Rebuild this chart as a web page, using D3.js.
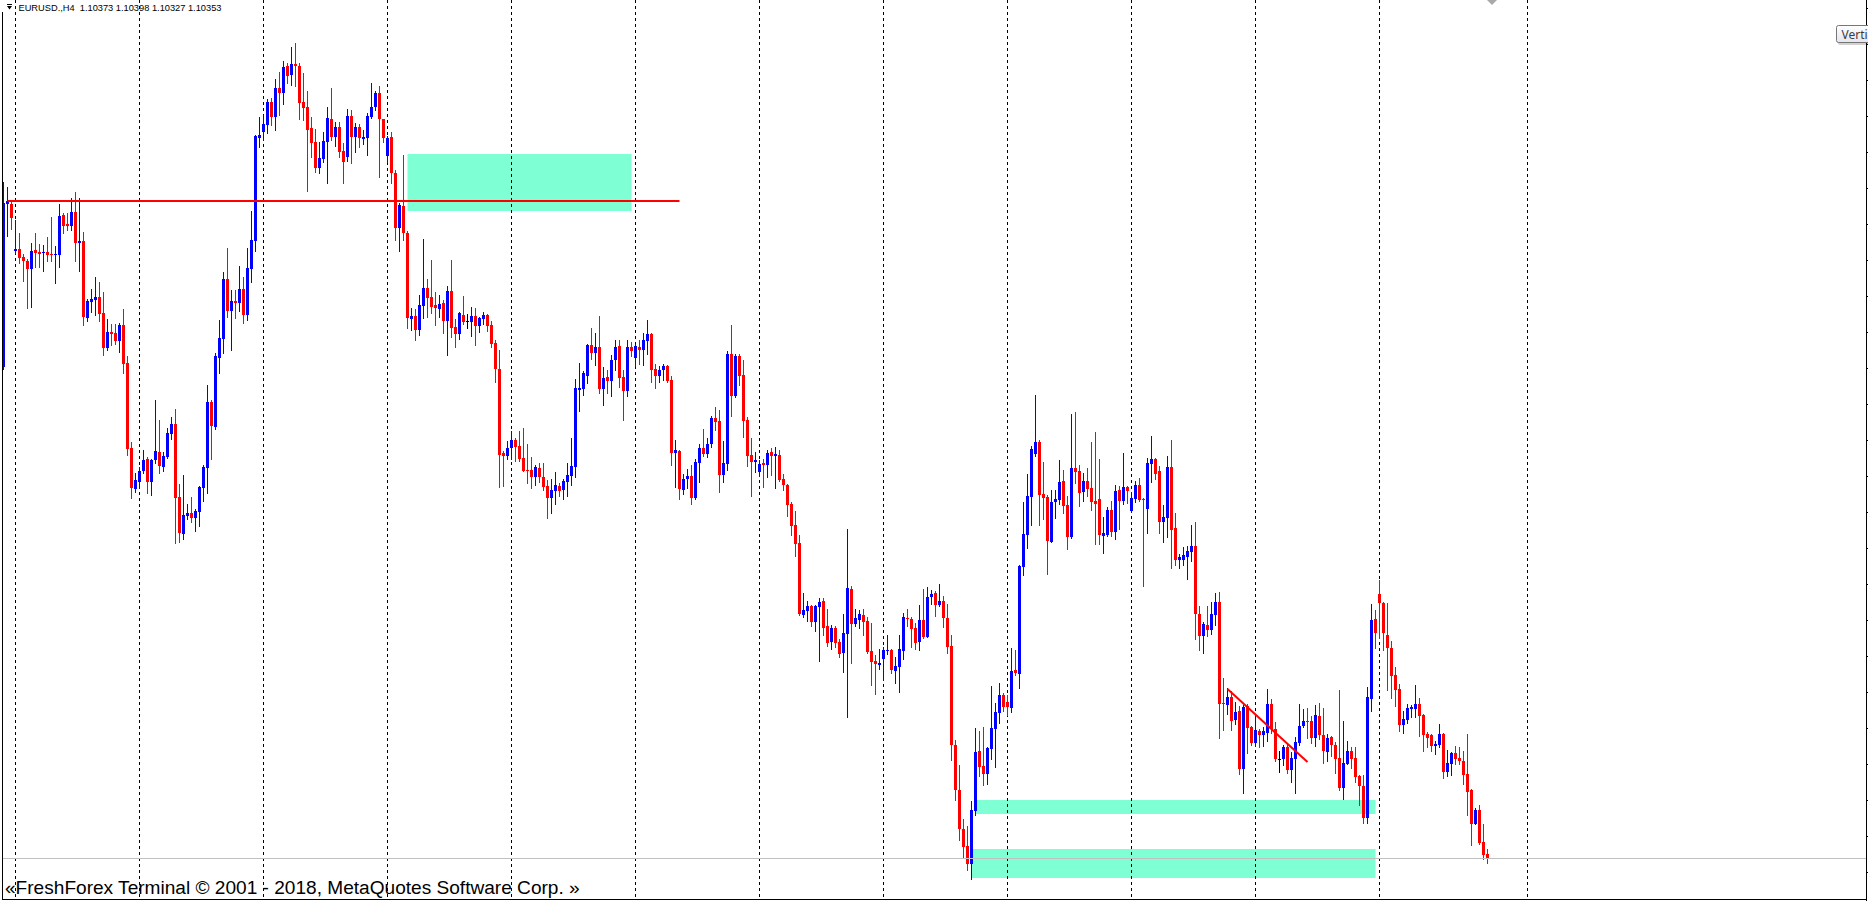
<!DOCTYPE html>
<html><head><meta charset="utf-8">
<script src="https://cdn.jsdelivr.net/npm/d3@7/dist/d3.min.js"></script>
<style>html,body{margin:0;padding:0;background:#fff;overflow:hidden}svg{display:block}</style>
</head><body>
<svg id="chart" width="1868" height="901"></svg>
<script>
// ---------------- DATA (EURUSD H4) ----------------
const headerText = "EURUSD.,H4  1.10373 1.10398 1.10327 1.10353";
const footerText = "«FreshForex Terminal © 2001 - 2018, MetaQuotes Software Corp. »";
const tooltipText = "Verti";

const open = [
1.12808,1.13623,1.13623,1.13388,1.13398,1.13358,1.13338,1.13298,1.13393,1.13383,
1.13378,1.13383,1.13373,1.13368,1.13368,1.13568,1.13523,1.13513,1.13583,1.13428,
1.13438,1.13053,1.13133,1.13143,1.13158,1.13078,1.12903,1.12983,1.12978,1.12938,
1.13018,1.12828,1.12403,1.12198,1.12233,1.12288,1.12348,1.12233,1.12343,1.12383,
1.12308,1.12358,1.12473,1.12523,1.12158,1.11973,1.12063,1.12078,1.12053,1.12083,
1.12203,1.12303,1.12633,1.12508,1.12853,1.12948,1.13248,1.13088,1.13138,1.13128,
1.13198,1.13068,1.13298,1.13438,1.13953,1.13983,1.14018,1.14133,1.14058,1.14203,
1.14178,1.14313,1.14268,1.14323,1.14313,1.14133,1.14108,1.14003,1.13933,1.13803,
1.13848,1.13933,1.14048,1.13958,1.14008,1.13888,1.13858,1.14063,1.13958,1.14008,
1.13948,1.13953,1.14058,1.14108,1.14178,1.14048,1.13863,1.13958,1.13778,1.13503,
1.13613,1.13478,1.13048,1.13063,1.12993,1.13113,1.13203,1.13158,1.13118,1.13098,
1.13128,1.13038,1.13188,1.13008,1.12973,1.13068,1.13038,1.13033,1.13063,1.13013,
1.13048,1.13068,1.13018,1.12928,1.12798,1.12378,1.12363,1.12403,1.12443,1.12413,
1.12353,1.12293,1.12293,1.12258,1.12303,1.12258,1.12213,1.12153,1.12188,1.12213,
1.12193,1.12233,1.12263,1.12308,1.12693,1.12698,1.12763,1.12918,1.12878,1.12908,
1.12698,1.12758,1.12738,1.12843,1.12913,1.12758,1.12688,1.12908,1.12853,1.12908,
1.12893,1.12938,1.12973,1.12798,1.12763,1.12793,1.12813,1.12743,1.12378,1.12388,
1.12193,1.12248,1.12263,1.12153,1.12328,1.12403,1.12373,1.12423,1.12553,1.12538,
1.12268,1.12323,1.12873,1.12663,1.12863,1.12768,1.12543,1.12368,1.12333,1.12283,
1.12328,1.12318,1.12383,1.12363,1.12368,1.12248,1.12218,1.12123,1.12018,1.11928,
1.11568,1.11588,1.11613,1.11533,1.11608,1.11638,1.11513,1.11433,1.11503,1.11433,
1.11378,1.11473,1.11698,1.11523,1.11543,1.11568,1.11538,1.11388,1.11338,1.11318,
1.11348,1.11388,1.11393,1.11288,1.11308,1.11388,1.11553,1.11548,1.11503,1.11433,
1.11543,1.11458,1.11658,1.11678,1.11618,1.11638,1.11553,1.11413,1.10918,1.10693,
1.10498,1.10413,1.10323,1.10588,1.10888,1.10813,1.10773,1.10898,1.10998,1.11078,
1.11168,1.11133,1.11103,1.11293,1.11273,1.11808,1.11968,1.12158,1.12373,1.12433,
1.12173,1.12158,1.11933,1.12133,1.12143,1.12238,1.12118,1.11958,1.12303,1.12288,
1.12183,1.12238,1.12203,1.12138,1.12148,1.11963,1.11968,1.12093,1.11983,1.12193,
1.12138,1.12208,1.12088,1.12148,1.12218,1.12148,1.12098,1.12323,1.12348,1.12288,
1.12033,1.12053,1.12308,1.12003,1.11843,1.11843,1.11858,1.11883,1.11913,1.11573,
1.11463,1.11518,1.11493,1.11568,1.11633,1.11128,1.11118,1.11158,1.11043,1.11088,
1.10798,1.11113,1.11008,1.10928,1.10988,1.10968,1.10978,1.11123,1.10998,1.10848,
1.10848,1.10908,1.10793,1.10848,1.10928,1.11013,1.11038,1.11038,1.10953,1.11063,
1.10968,1.10883,1.10958,1.10918,1.10853,1.10703,1.10823,1.10888,1.10853,1.10763,
1.10713,1.10553,1.11148,1.11548,1.11673,1.11628,1.11468,1.11403,1.11268,1.11198,
1.11018,1.11043,1.11098,1.11098,1.11123,1.11068,1.10973,1.10968,1.10913,1.10918,
1.10973,1.10783,1.10823,1.10878,1.10853,1.10838,1.10773,1.10693,1.10523,1.10593,
1.10433,1.10373];

const high = [
1.13733,1.13708,1.13633,1.13543,1.13478,1.13373,1.13348,1.13428,1.13478,1.13423,
1.13418,1.13458,1.13558,1.13413,1.13623,1.13578,1.13578,1.13653,1.13683,1.13653,
1.13483,1.13148,1.13198,1.13258,1.13233,1.13183,1.13048,1.13023,1.13023,1.13028,
1.13098,1.12863,1.12433,1.12278,1.12308,1.12393,1.12358,1.12348,1.12643,1.12543,
1.12383,1.12503,1.12558,1.12598,1.12223,1.12268,1.12123,1.12158,1.12098,1.12213,
1.12318,1.12718,1.12643,1.12878,1.13043,1.13283,1.13403,1.13193,1.13193,1.13313,
1.13258,1.13403,1.13588,1.13968,1.14058,1.14068,1.14148,1.14153,1.14248,1.14283,
1.14338,1.14328,1.14408,1.14428,1.14328,1.14278,1.14188,1.14058,1.13998,1.13933,
1.13983,1.14108,1.14203,1.14033,1.14033,1.13928,1.14098,1.14093,1.14028,1.14023,
1.13993,1.14078,1.14228,1.14188,1.14213,1.14048,1.13963,1.13983,1.13793,1.13628,
1.13868,1.13488,1.13103,1.13098,1.13168,1.13448,1.13248,1.13343,1.13183,1.13168,
1.13143,1.13213,1.13343,1.13048,1.13083,1.13163,1.13073,1.13108,1.13103,1.13058,
1.13083,1.13073,1.13038,1.12943,1.12893,1.12388,1.12438,1.12488,1.12453,1.12488,
1.12503,1.12423,1.12358,1.12318,1.12328,1.12328,1.12243,1.12248,1.12283,1.12228,
1.12248,1.12328,1.12453,1.12748,1.12828,1.12788,1.12923,1.13003,1.12978,1.13063,
1.12808,1.12793,1.12868,1.12943,1.12943,1.12793,1.12943,1.12933,1.12923,1.12943,
1.12978,1.13043,1.12978,1.12823,1.12813,1.12823,1.12818,1.12763,1.12443,1.12393,
1.12273,1.12298,1.12318,1.12348,1.12423,1.12498,1.12453,1.12563,1.12608,1.12593,
1.12438,1.12888,1.13018,1.12873,1.12873,1.12843,1.12558,1.12453,1.12383,1.12343,
1.12348,1.12393,1.12403,1.12408,1.12393,1.12273,1.12223,1.12133,1.12088,1.11968,
1.11678,1.11638,1.11618,1.11618,1.11653,1.11653,1.11598,1.11518,1.11513,1.11448,
1.11573,1.11998,1.11713,1.11598,1.11593,1.11598,1.11558,1.11528,1.11368,1.11398,
1.11408,1.11468,1.11398,1.11358,1.11468,1.11578,1.11598,1.11558,1.11528,1.11618,
1.11698,1.11708,1.11693,1.11688,1.11723,1.11663,1.11623,1.11468,1.10943,1.10818,
1.10548,1.10513,1.10638,1.11003,1.10988,1.11008,1.10908,1.11213,1.11128,1.11228,
1.11178,1.11168,1.11403,1.11393,1.11818,1.12133,1.12273,1.12413,1.12668,1.12443,
1.12333,1.12168,1.12193,1.12193,1.12343,1.12293,1.12163,1.12573,1.12583,1.12318,
1.12278,1.12303,1.12433,1.12483,1.12348,1.12058,1.12108,1.12138,1.12218,1.12213,
1.12378,1.12213,1.12183,1.12238,1.12253,1.12153,1.12353,1.12463,1.12353,1.12313,
1.12118,1.12363,1.12443,1.12078,1.11873,1.11908,1.11913,1.12018,1.12033,1.11613,
1.11533,1.11613,1.11633,1.11678,1.11683,1.11253,1.11203,1.11188,1.11133,1.11113,
1.11118,1.11123,1.11013,1.11073,1.10998,1.11008,1.11198,1.11148,1.11033,1.10888,
1.10918,1.10923,1.10883,1.10958,1.11123,1.11098,1.11103,1.11063,1.11118,1.11128,
1.11103,1.10973,1.10963,1.10933,1.11193,1.11038,1.10938,1.10908,1.10908,1.10768,
1.10768,1.11208,1.11623,1.11593,1.11743,1.11633,1.11628,1.11438,1.11308,1.11223,
1.11088,1.11123,1.11118,1.11218,1.11153,1.11073,1.10983,1.10973,1.10938,1.11023,
1.10978,1.10893,1.10883,1.10913,1.10908,1.10888,1.10973,1.10698,1.10603,1.10618,
1.10523,1.10398];

const low = [
1.12798,1.13463,1.13498,1.13378,1.13328,1.13238,1.13103,1.13108,1.13308,1.13308,
1.13288,1.13338,1.13338,1.13228,1.13308,1.13478,1.13493,1.13493,1.13338,1.13288,
1.13018,1.13038,1.13083,1.13068,1.13038,1.12868,1.12893,1.12918,1.12923,1.12883,
1.12778,1.12368,1.12153,1.12183,1.12203,1.12278,1.12178,1.12168,1.12328,1.12278,
1.12288,1.12353,1.12448,1.11928,1.11933,1.11948,1.12048,1.12033,1.11988,1.12013,
1.12138,1.12178,1.12348,1.12498,1.12778,1.12878,1.13058,1.12893,1.13053,1.13088,
1.13028,1.13043,1.13233,1.13388,1.13908,1.13943,1.13978,1.14018,1.13993,1.14068,
1.14123,1.14228,1.14218,1.14213,1.14048,1.14043,1.13688,1.13858,1.13783,1.13778,
1.13833,1.13728,1.13943,1.13913,1.13858,1.13728,1.13838,1.13828,1.13883,1.13908,
1.13923,1.13868,1.14053,1.14093,1.13758,1.13933,1.13833,1.13728,1.13443,1.13388,
1.13443,1.13003,1.12993,1.12943,1.12968,1.13053,1.13058,1.13078,1.13018,1.13058,
1.12978,1.12868,1.12958,1.12908,1.12948,1.13023,1.13003,1.12963,1.12918,1.12983,
1.13023,1.12988,1.12908,1.12733,1.12208,1.12213,1.12348,1.12348,1.12338,1.12338,
1.12288,1.12228,1.12203,1.12218,1.12233,1.12193,1.12053,1.12078,1.12123,1.12163,
1.12148,1.12163,1.12218,1.12258,1.12588,1.12668,1.12728,1.12848,1.12818,1.12678,
1.12618,1.12678,1.12663,1.12793,1.12708,1.12543,1.12663,1.12863,1.12813,1.12823,
1.12818,1.12873,1.12733,1.12703,1.12733,1.12743,1.12733,1.12318,1.12208,1.12148,
1.12173,1.12203,1.12123,1.12148,1.12233,1.12363,1.12358,1.12408,1.12493,1.12183,
1.12233,1.12293,1.12563,1.12658,1.12718,1.12458,1.12313,1.12163,1.12283,1.12263,
1.12208,1.12258,1.12268,1.12203,1.12238,1.12193,1.12063,1.11968,1.11863,1.11568,
1.11558,1.11538,1.11513,1.11488,1.11338,1.11468,1.11413,1.11398,1.11408,1.11358,
1.11283,1.11058,1.11328,1.11513,1.11503,1.11468,1.11378,1.11218,1.11173,1.11298,
1.11243,1.11373,1.11278,1.11228,1.11183,1.11348,1.11513,1.11408,1.11398,1.11393,
1.11453,1.11458,1.11623,1.11563,1.11613,1.11508,1.11378,1.10843,1.10643,1.10443,
1.10358,1.10293,1.10248,1.10568,1.10763,1.10718,1.10723,1.10848,1.10808,1.11028,
1.11088,1.11068,1.11083,1.11268,1.11203,1.11768,1.11903,1.12018,1.12363,1.12018,
1.12048,1.11773,1.11933,1.12053,1.12123,1.12078,1.11898,1.11953,1.12228,1.12113,
1.12138,1.12163,1.12093,1.11923,1.11923,1.11878,1.11963,1.11963,1.11948,1.11998,
1.12123,1.12128,1.12083,1.12133,1.12138,1.11713,1.11978,1.12233,1.12248,1.11978,
1.11933,1.11958,1.11803,1.11818,1.11803,1.11818,1.11748,1.11838,1.11448,1.11393,
1.11378,1.11463,1.11473,1.11518,1.10953,1.10993,1.11073,1.10993,1.11023,1.10773,
1.10678,1.10878,1.10918,1.10913,1.10908,1.10913,1.10938,1.10978,1.10838,1.10783,
1.10818,1.10778,1.10733,1.10678,1.10918,1.11008,1.10953,1.10928,1.10913,1.10948,
1.10828,1.10838,1.10863,1.10778,1.10693,1.10648,1.10823,1.10803,1.10733,1.10618,
1.10528,1.10528,1.11088,1.11403,1.11453,1.11393,1.11193,1.11153,1.11113,1.10988,
1.10978,1.11028,1.11058,1.11058,1.10963,1.10888,1.10908,1.10888,1.10873,1.10908,
1.10753,1.10763,1.10768,1.10823,1.10823,1.10723,1.10568,1.10418,1.10523,1.10423,
1.10348,1.10327];

const close = [
1.13628,1.13638,1.13553,1.13398,1.13353,1.13338,1.13298,1.13388,1.13378,1.13373,
1.13383,1.13368,1.13368,1.13373,1.13563,1.13513,1.13513,1.13583,1.13428,1.13438,
1.13058,1.13138,1.13148,1.13158,1.13073,1.12903,1.12983,1.12973,1.12938,1.13018,
1.12823,1.12398,1.12203,1.12243,1.12288,1.12343,1.12233,1.12343,1.12388,1.12313,
1.12363,1.12478,1.12523,1.12153,1.11978,1.12068,1.12078,1.12053,1.12088,1.12208,
1.12308,1.12633,1.12513,1.12863,1.12953,1.13248,1.13088,1.13138,1.13128,1.13198,
1.13068,1.13303,1.13443,1.13963,1.13968,1.14023,1.14133,1.14058,1.14203,1.14178,
1.14308,1.14263,1.14323,1.14313,1.14128,1.14103,1.13993,1.13928,1.13803,1.13853,
1.13938,1.14053,1.13958,1.14008,1.13883,1.13833,1.14063,1.13958,1.14008,1.13953,
1.13958,1.14063,1.14108,1.14178,1.14048,1.13953,1.13953,1.13778,1.13503,1.13618,
1.13478,1.13053,1.13063,1.12993,1.13118,1.13203,1.13153,1.13108,1.13103,1.13123,
1.13038,1.13188,1.13003,1.12973,1.13078,1.13033,1.13038,1.13063,1.13013,1.13053,
1.13068,1.13013,1.12923,1.12798,1.12368,1.12363,1.12403,1.12443,1.12408,1.12348,
1.12288,1.12288,1.12258,1.12308,1.12258,1.12208,1.12153,1.12193,1.12218,1.12188,
1.12238,1.12268,1.12313,1.12703,1.12703,1.12778,1.12918,1.12878,1.12908,1.12698,
1.12753,1.12738,1.12843,1.12908,1.12753,1.12688,1.12908,1.12888,1.12913,1.12893,
1.12943,1.12973,1.12793,1.12763,1.12793,1.12813,1.12738,1.12378,1.12393,1.12198,
1.12248,1.12263,1.12153,1.12333,1.12403,1.12373,1.12423,1.12553,1.12533,1.12268,
1.12328,1.12873,1.12663,1.12863,1.12763,1.12538,1.12363,1.12333,1.12343,1.12323,
1.12318,1.12378,1.12363,1.12373,1.12243,1.12218,1.12118,1.12013,1.11923,1.11573,
1.11593,1.11613,1.11533,1.11613,1.11633,1.11503,1.11428,1.11503,1.11428,1.11373,
1.11478,1.11703,1.11523,1.11553,1.11573,1.11533,1.11383,1.11333,1.11323,1.11328,
1.11393,1.11393,1.11293,1.11313,1.11398,1.11558,1.11548,1.11498,1.11428,1.11543,
1.11458,1.11658,1.11673,1.11618,1.11638,1.11553,1.11408,1.10918,1.10693,1.10498,
1.10408,1.10323,1.10593,1.10883,1.10808,1.10773,1.10903,1.11003,1.11083,1.11168,
1.11108,1.11108,1.11288,1.11278,1.11813,1.11973,1.12163,1.12398,1.12433,1.12168,
1.12153,1.11938,1.12133,1.12148,1.12233,1.12113,1.11958,1.12303,1.12283,1.12178,
1.12238,1.12198,1.12133,1.12123,1.11968,1.11978,1.12093,1.11983,1.12188,1.12138,
1.12208,1.12188,1.12153,1.12218,1.12143,1.12143,1.12328,1.12348,1.12273,1.12033,
1.12058,1.12308,1.11993,1.11843,1.11858,1.11868,1.11888,1.11913,1.11573,1.11463,
1.11523,1.11493,1.11573,1.11633,1.11123,1.11123,1.11158,1.11038,1.11083,1.10798,
1.11108,1.11003,1.10928,1.10993,1.10968,1.10988,1.11123,1.10998,1.10848,1.10848,
1.10908,1.10793,1.10853,1.10933,1.11013,1.11038,1.11033,1.10953,1.11068,1.10968,
1.10888,1.10953,1.10918,1.10848,1.10703,1.10828,1.10888,1.10848,1.10758,1.10713,
1.10553,1.11158,1.11543,1.11478,1.11628,1.11478,1.11403,1.11263,1.11193,1.11018,
1.11048,1.11103,1.11108,1.11123,1.11063,1.10968,1.10953,1.10913,1.10923,1.10973,
1.10783,1.10828,1.10878,1.10848,1.10838,1.10768,1.10683,1.10523,1.10593,1.10428,
1.10368,1.10353];

// week separators (bar index of each Monday 00:00 bar)
const weekStartBars = [3, 34, 65, 96, 127, 158, 189, 220, 251, 282, 313, 344, 381];

// horizontal line object
const hLineBars = [1, 169];
const hLinePrice = 1.13638;

// rectangle objects
const zoneFromBar  = [101, 243, 242];
const zoneToBar    = [157, 343, 343];
const zoneTopPrice = [1.13873, 1.10643, 1.10398];
const zoneBotPrice = [1.13588, 1.10573, 1.10253];

// trend line object
const trendBars   = [306, 326];
const trendPrices = [1.11198, 1.10833];

// bid price line
const bidPrice = 1.10353;

// ---------------- DRAWING ----------------
const W = 1868, H = 901;
const svg = d3.select("#chart");

const x = d3.scaleLinear().domain([0, 1]).range([3.5, 7.5]);
const y = d3.scaleLinear().domain([1.10138, 1.14643]).range([901, 0]);

const bars = open.map((o, i) => ({i, o, h: high[i], l: low[i], c: close[i]}));

// zones (background)
const zones = zoneFromBar.map((f, k) => ({f, t: zoneToBar[k], top: zoneTopPrice[k], bot: zoneBotPrice[k]}));
svg.append("g").selectAll("rect").data(zones).join("rect")
  .attr("x", d => Math.round(x(d.f)) - 0.5)
  .attr("y", d => Math.round(y(d.top)))
  .attr("width", d => Math.round(x(d.t)) - Math.round(x(d.f)))
  .attr("height", d => Math.round(y(d.bot)) - Math.round(y(d.top)))
  .attr("fill", "#7FFFD4");

// week separators
svg.append("g").selectAll("line").data(weekStartBars).join("line")
  .attr("x1", d => x(d)).attr("x2", d => x(d))
  .attr("y1", 0).attr("y2", 899)
  .attr("stroke", "#000").attr("stroke-width", 1)
  .attr("stroke-dasharray", "3,3").attr("shape-rendering", "crispEdges");

// candles
const colorOf = d => d.c > d.o ? "#0000FF" : (d.c < d.o ? "#FF0000" : "#000000");
const gC = svg.append("g").attr("shape-rendering", "crispEdges");
gC.selectAll("rect.wick").data(bars).join("rect").attr("class", "wick")
  .attr("x", d => x(d.i) - 0.5)
  .attr("y", d => Math.round(y(d.h)))
  .attr("width", 1)
  .attr("height", d => Math.max(1, Math.round(y(d.l)) - Math.round(y(d.h)) + 1))
  .attr("fill", colorOf);
gC.selectAll("rect.body").data(bars).join("rect").attr("class", "body")
  .attr("x", d => x(d.i) - 1.5)
  .attr("y", d => Math.round(y(Math.max(d.o, d.c))))
  .attr("width", 3)
  .attr("height", d => Math.max(1, Math.round(y(Math.min(d.o, d.c))) - Math.round(y(Math.max(d.o, d.c)))))
  .attr("fill", colorOf);

// bid line
svg.append("line")
  .attr("x1", 3).attr("x2", 1866)
  .attr("y1", Math.round(y(bidPrice)) + 0.5).attr("y2", Math.round(y(bidPrice)) + 0.5)
  .attr("stroke", "#C0C0C0").attr("stroke-width", 1);

// horizontal line
svg.append("line")
  .attr("x1", x(hLineBars[0])).attr("x2", x(hLineBars[1]))
  .attr("y1", y(hLinePrice)).attr("y2", y(hLinePrice))
  .attr("stroke", "#FF0000").attr("stroke-width", 2);

// trend line
svg.append("line")
  .attr("x1", x(trendBars[0])).attr("y1", y(trendPrices[0]))
  .attr("x2", x(trendBars[1])).attr("y2", y(trendPrices[1]))
  .attr("stroke", "#FF0000").attr("stroke-width", 2);

// borders
const gB = svg.append("g").attr("shape-rendering", "crispEdges");
gB.append("line").attr("x1", 2.5).attr("x2", 2.5).attr("y1", 12).attr("y2", 900).attr("stroke", "#000");
gB.append("line").attr("x1", 1866.5).attr("x2", 1866.5).attr("y1", 0).attr("y2", 901).attr("stroke", "#000");
gB.append("line").attr("x1", 2).attr("x2", 1867).attr("y1", 899.5).attr("y2", 899.5).attr("stroke", "#000");
// price-scale tick marks on right edge
const priceTicks = d3.range(1.10283, 1.14643, 0.0018);
gB.selectAll("line.tick").data(priceTicks).join("line").attr("class", "tick")
  .attr("x1", 1866).attr("x2", 1868)
  .attr("y1", d => Math.round(y(d)) + 0.5).attr("y2", d => Math.round(y(d)) + 0.5)
  .attr("stroke", "#000");

// chart-shift marker
svg.append("path").attr("d", "M1487,0 L1497,0 L1492,5 Z").attr("fill", "#A9A9A9");

// header
svg.append("path").attr("d", "M7,4 h5 v1 h-5 Z M7,6 h5 l-2.5,3.5 Z").attr("fill", "#000");
const hdr = svg.append("text").attr("x", 18.5).attr("y", 10.5)
  .attr("font-family", "Liberation Sans, Arial, sans-serif").attr("font-size", 9)
  .attr("fill", "#000").attr("xml:space", "preserve").style("white-space", "pre")
  .text(headerText);
const hdrLen = hdr.node().getComputedTextLength();
if (hdrLen > 0) hdr.attr("font-size", (9 * 203 / hdrLen).toFixed(2));

// footer
const ftr = svg.append("text").attr("x", 5).attr("y", 894)
  .attr("font-family", "Liberation Sans, Arial, sans-serif").attr("font-size", 19)
  .attr("fill", "#000").text(footerText);
const ftrLen = ftr.node().getComputedTextLength();
if (ftrLen > 0) ftr.attr("font-size", (19 * 575 / ftrLen).toFixed(2));

// tooltip
const defs = svg.append("defs");
const lg = defs.append("linearGradient").attr("id", "tipg").attr("x1", 0).attr("x2", 0).attr("y1", 0).attr("y2", 1);
lg.append("stop").attr("offset", "0%").attr("stop-color", "#FFFFFF");
lg.append("stop").attr("offset", "100%").attr("stop-color", "#E4E5F0");
svg.append("rect").attr("x", 1838).attr("y", 27).attr("width", 40).attr("height", 18).attr("rx", 2)
  .attr("fill", "rgba(0,0,0,0.18)");
svg.append("rect").attr("x", 1836.5).attr("y", 25.5).attr("width", 40).attr("height", 17).attr("rx", 2)
  .attr("fill", "url(#tipg)").attr("stroke", "#767676");
svg.append("text").attr("x", 1841.5).attr("y", 38.5)
  .attr("font-family", "Noto Sans, sans-serif").attr("font-size", 12)
  .attr("fill", "#3C3C3C").text(tooltipText);
</script>
</body></html>
